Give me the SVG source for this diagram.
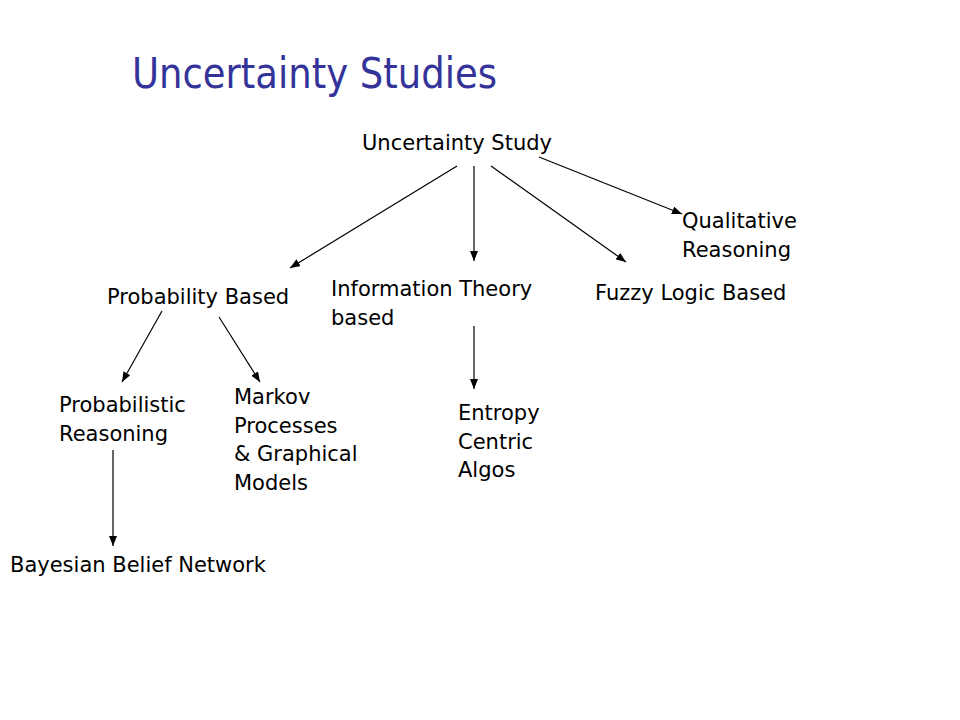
<svg xmlns="http://www.w3.org/2000/svg" width="960" height="720" viewBox="0 0 960 720">
<style>
.t{font-family:"DejaVu Sans","Verdana",sans-serif;font-size:21px;fill:#000}
.title{font-family:"DejaVu Sans Condensed","DejaVu Sans",sans-serif;font-size:42px;fill:#333399}
.c{stroke:#000;stroke-width:1.2;fill:none;marker-end:url(#ah)}
</style>
<defs>
<marker id="ah" viewBox="0 0 10 8" refX="10" refY="4" markerWidth="10" markerHeight="8" markerUnits="userSpaceOnUse" orient="auto">
<path d="M0,0 L10,4 L0,8 Z" fill="#000"/>
</marker>
</defs>
<rect width="960" height="720" fill="#fff"/>
<text class="title" x="132" y="88" textLength="365" lengthAdjust="spacingAndGlyphs">Uncertainty Studies</text>
<g id="root"><text class="t" x="362" y="150">Uncertainty Study</text></g>
<g id="qual"><text class="t" x="682" y="228">Qualitative</text><text class="t" x="682" y="257">Reasoning</text></g>
<g id="prob"><text class="t" x="107" y="304">Probability Based</text></g>
<g id="info"><text class="t" x="331" y="296">Information Theory</text><text class="t" x="331" y="325">based</text></g>
<g id="fuzzy"><text class="t" x="595" y="300">Fuzzy Logic Based</text></g>
<g id="probreason"><text class="t" x="59" y="412">Probabilistic</text><text class="t" x="59" y="441">Reasoning</text></g>
<g id="markov"><text class="t" x="234" y="404">Markov</text><text class="t" x="234" y="433">Processes</text><text class="t" x="234" y="461">&amp; Graphical</text><text class="t" x="234" y="490">Models</text></g>
<g id="entropy"><text class="t" x="458" y="420">Entropy</text><text class="t" x="458" y="449">Centric</text><text class="t" x="458" y="477">Algos</text></g>
<g id="bayes"><text class="t" x="10" y="572">Bayesian Belief Network</text></g>
<g id="connectors">
<line class="c" x1="457" y1="166" x2="290" y2="268"/>
<line class="c" x1="474" y1="166" x2="474" y2="261"/>
<line class="c" x1="491" y1="166" x2="626" y2="262"/>
<line class="c" x1="539" y1="157" x2="682" y2="214"/>
<line class="c" x1="162" y1="311" x2="122" y2="382"/>
<line class="c" x1="219" y1="317" x2="260" y2="382"/>
<line class="c" x1="474" y1="326" x2="474" y2="389"/>
<line class="c" x1="113" y1="450" x2="113" y2="546"/>
</g>
</svg>
